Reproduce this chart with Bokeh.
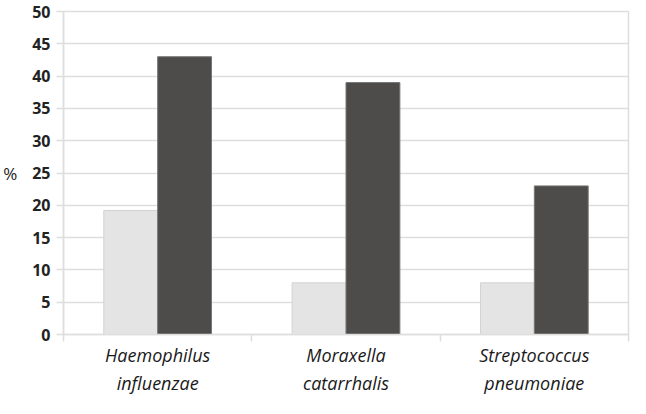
from bokeh.plotting import figure
from bokeh.models import ColumnDataSource, FixedTicker, Range1d
from bokeh.transform import dodge
from bokeh.embed import file_html
from bokeh.resources import INLINE

categories = ["Haemophilus\ninfluenzae", "Moraxella\ncatarrhalis", "Streptococcus\npneumoniae"]
series_light = [19.2, 8.0, 8.0]
series_dark = [43.0, 39.0, 23.0]
y_ticks = [0, 5, 10, 15, 20, 25, 30, 35, 40, 45, 50]

pos = [i + 0.5 for i in range(len(categories))]
src = ColumnDataSource(dict(x=pos, light=series_light, dark=series_dark))

p = figure(width=630, height=398, output_backend="svg", toolbar_location=None,
           x_range=Range1d(0, len(categories)), y_range=Range1d(0, 50),
           min_border_left=0, min_border_right=2, min_border_top=11, min_border_bottom=56)

grid_col = "#dedede"
p.vbar(x=dodge("x", -0.143, range=p.x_range), top="light", width=0.286, bottom=0,
       source=src, fill_color="#e4e4e4", line_color="#d2d2d2", line_width=1)
p.vbar(x=dodge("x", 0.143, range=p.x_range), top="dark", width=0.286, bottom=0,
       source=src, fill_color="#4e4c4b", line_color="#767676", line_width=1)

p.outline_line_color = grid_col
p.outline_line_width = 1.5
p.xgrid.grid_line_color = None
p.ygrid.grid_line_color = grid_col
p.ygrid.grid_line_width = 1.5

p.yaxis.ticker = FixedTicker(ticks=y_ticks)
p.yaxis.axis_line_color = grid_col
p.yaxis.axis_line_width = 1.5
p.yaxis.major_tick_line_color = grid_col
p.yaxis.major_tick_line_width = 1.5
p.yaxis.major_tick_out = 7
p.yaxis.major_tick_in = 0
p.yaxis.minor_tick_line_color = None
p.yaxis.major_label_text_font = "Open Sans"
p.yaxis.major_label_text_font_size = "16px"
p.yaxis.major_label_text_font_style = "bold"
p.yaxis.major_label_text_color = "#222222"
p.yaxis.major_label_standoff = 6
p.yaxis.axis_label = "%"
p.yaxis.axis_label_orientation = "horizontal"
p.yaxis.axis_label_text_font = "Open Sans"
p.yaxis.axis_label_text_font_size = "17px"
p.yaxis.axis_label_text_font_style = "normal"
p.yaxis.axis_label_text_color = "#1a1a1a"
p.yaxis.axis_label_standoff = 12

p.xaxis.ticker = FixedTicker(ticks=pos, minor_ticks=list(range(len(categories) + 1)))
p.xaxis.major_label_overrides = {v: c for v, c in zip(pos, categories)}
p.xaxis.axis_line_color = grid_col
p.xaxis.axis_line_width = 1.5
p.xaxis.major_tick_line_color = None
p.xaxis.minor_tick_line_color = grid_col
p.xaxis.minor_tick_line_width = 1.5
p.xaxis.minor_tick_out = 7
p.xaxis.minor_tick_in = 0
p.xaxis.major_label_text_font = "Open Sans"
p.xaxis.major_label_text_font_size = "18px"
p.xaxis.major_label_text_font_style = "italic"
p.xaxis.major_label_text_color = "#1a1a1a"
p.xaxis.major_label_standoff = 1

open("out.html", "w").write(file_html(p, INLINE))
